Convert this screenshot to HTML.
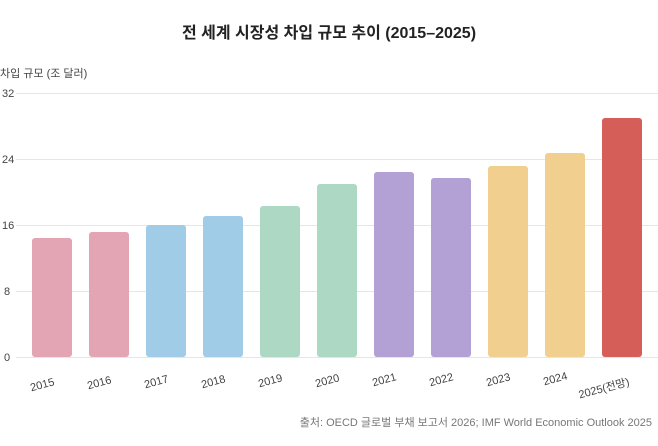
<!DOCTYPE html>
<html><head><meta charset="utf-8"><style>
body{margin:0;background:#fff;width:658px;height:441px;overflow:hidden}
text{font-family:"Liberation Sans","Noto Sans CJK KR",sans-serif}
</style></head><body>
<svg width="658" height="441" xmlns="http://www.w3.org/2000/svg">
<text x="329" y="38" text-anchor="middle" font-size="16" font-weight="bold" fill="#222">전 세계 시장성 차입 규모 추이 (2015–2025)</text>
<text x="0" y="77" font-size="11" fill="#444">차입 규모 (조 달러)</text>
<g stroke="#e6e6e6" stroke-width="1">
<line x1="16" x2="658" y1="93.5" y2="93.5"/>
<line x1="16" x2="658" y1="159.5" y2="159.5"/>
<line x1="16" x2="658" y1="225.5" y2="225.5"/>
<line x1="16" x2="658" y1="291.5" y2="291.5"/>
<line x1="16" x2="658" y1="357.5" y2="357.5"/>
</g>
<g font-size="11" fill="#444">
<text x="2" y="97">32</text><text x="2" y="163">24</text><text x="2" y="229">16</text><text x="4" y="295">8</text><text x="4" y="361">0</text>
</g>
<g>
<rect x="32" y="238" width="40" height="119" rx="3" fill="#e3a5b3"/>
<rect x="89" y="232" width="40" height="125" rx="3" fill="#e3a5b3"/>
<rect x="146" y="225" width="40" height="132" rx="3" fill="#a1cce8"/>
<rect x="203" y="216" width="40" height="141" rx="3" fill="#a1cce8"/>
<rect x="260" y="206" width="40" height="151" rx="3" fill="#acd8c4"/>
<rect x="317" y="184" width="40" height="173" rx="3" fill="#acd8c4"/>
<rect x="374" y="172" width="40" height="185" rx="3" fill="#b3a0d5"/>
<rect x="431" y="178" width="40" height="179" rx="3" fill="#b3a0d5"/>
<rect x="488" y="166" width="40" height="191" rx="3" fill="#f1cf8e"/>
<rect x="545" y="153" width="40" height="204" rx="3" fill="#f1cf8e"/>
<rect x="602" y="118" width="40" height="239" rx="3" fill="#d55e58"/>
</g>
<g font-size="11" fill="#444" text-anchor="end">
<text transform="translate(55,385) rotate(-15)">2015</text>
<text transform="translate(112,383) rotate(-15)">2016</text>
<text transform="translate(169,382) rotate(-15)">2017</text>
<text transform="translate(226,382) rotate(-15)">2018</text>
<text transform="translate(283,381) rotate(-15)">2019</text>
<text transform="translate(340,381) rotate(-15)">2020</text>
<text transform="translate(397,380) rotate(-15)">2021</text>
<text transform="translate(454,380) rotate(-15)">2022</text>
<text transform="translate(511,380) rotate(-15)">2023</text>
<text transform="translate(568,379) rotate(-15)">2024</text>
<text transform="translate(630,385) rotate(-15)">2025(전망)</text>
</g>
<text x="652" y="426" text-anchor="end" font-size="11" fill="#777">출처: OECD 글로벌 부채 보고서 2026; IMF World Economic Outlook 2025</text>
</svg>
</body></html>
